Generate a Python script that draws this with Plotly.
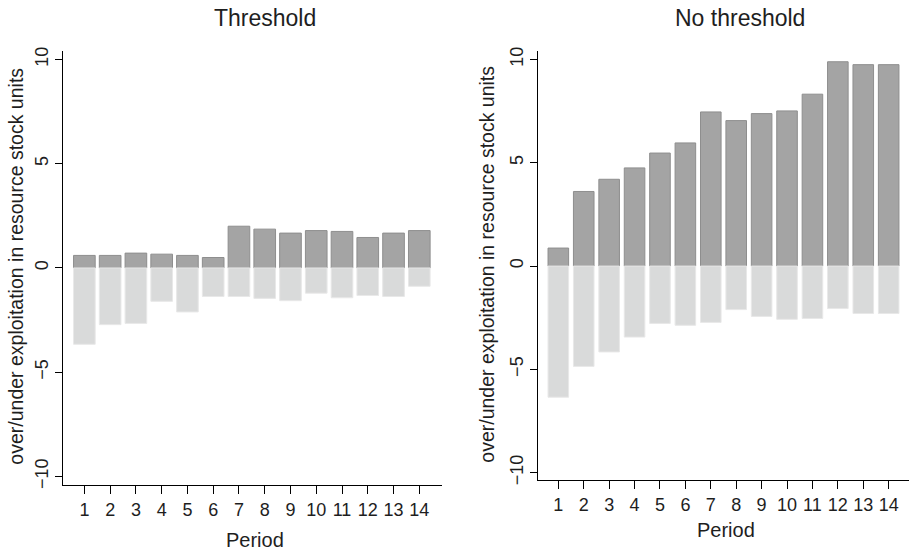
import plotly.graph_objects as go

periods = list(range(1, 15))
period_labels = [str(p) for p in periods]

threshold_over = [0.60, 0.60, 0.71, 0.66, 0.60, 0.50, 2.00, 1.86, 1.67, 1.79, 1.75, 1.46, 1.67, 1.79]
threshold_under = [-3.66, -2.72, -2.66, -1.60, -2.11, -1.37, -1.37, -1.46, -1.57, -1.21, -1.43, -1.32, -1.37, -0.88]
nothreshold_over = [0.87, 3.61, 4.20, 4.75, 5.47, 5.96, 7.46, 7.04, 7.38, 7.51, 8.32, 9.89, 9.75, 9.75]
nothreshold_under = [-6.35, -4.86, -4.16, -3.44, -2.78, -2.87, -2.73, -2.11, -2.44, -2.58, -2.54, -2.06, -2.30, -2.30]

y_ticks = [-10, -5, 0, 5, 10]
y_ticktext = ["\u221210", "\u22125", "0", "5", "10"]

panel_titles = ["Threshold", "No threshold"]
y_title = "over/under exploitation in resource stock units"
x_title = "Period"

DARK = "#a4a4a4"
DARK_LINE = "#8e8e8e"
LIGHT = "#d9dada"
LIGHT_LINE = "#e8e8e8"
FONT = "Liberation Sans, Arial, sans-serif"
TXT = "#1e1e1e"

fig = go.Figure()


def add_panel(over, under, xa, ya, width):
    fig.add_trace(go.Bar(x=periods, y=over, xaxis=xa, yaxis=ya, width=width,
                         marker=dict(color=DARK, line=dict(color=DARK_LINE, width=1)),
                         showlegend=False, hoverinfo="x+y"))
    fig.add_trace(go.Bar(x=periods, y=under, xaxis=xa, yaxis=ya, width=width,
                         marker=dict(color=LIGHT, line=dict(color=LIGHT_LINE, width=1)),
                         showlegend=False, hoverinfo="x+y"))


add_panel(threshold_over, threshold_under, "x", "y", 0.84)
add_panel(nothreshold_over, nothreshold_under, "x2", "y2", 0.81)

W, H = 909, 554


def px_x(p):
    return p / W


def px_y(p):
    return (H - p) / H


xcommon = dict(showline=True, linecolor="black", linewidth=1, ticks="outside", ticklen=8,
               tickcolor="black", tickwidth=1, showgrid=False, zeroline=False,
               tickmode="array", tickvals=periods, ticktext=period_labels,
               tickfont=dict(family=FONT, size=18, color=TXT))
ycommon = dict(showline=True, linecolor="black", linewidth=1, ticks="outside", ticklen=7,
               tickcolor="black", tickwidth=1, showgrid=False, zeroline=False,
               tickmode="array", tickvals=y_ticks, ticktext=y_ticktext, tickangle=-90,
               tickfont=dict(family=FONT, size=18, color=TXT))

fig.update_layout(
    width=W, height=H,
    margin=dict(l=0, r=0, t=0, b=0),
    paper_bgcolor="white", plot_bgcolor="white",
    barmode="relative",
    xaxis=dict(xcommon, domain=[px_x(63), px_x(441.7)], range=[0.17, 14.87], anchor="y"),
    yaxis=dict(ycommon, domain=[px_y(489), px_y(48)], range=[-10.41, 10.39], anchor="x"),
    xaxis2=dict(xcommon, domain=[px_x(538), 1.0], range=[0.2, 14.8], anchor="y2"),
    yaxis2=dict(ycommon, domain=[px_y(484.3), px_y(48)], range=[-10.38, 10.4], anchor="x2"),
)

ann = []
# panel titles
ann.append(dict(text=panel_titles[0], x=px_x(264.5), y=px_y(14), xref="paper", yref="paper",
                xanchor="center", yanchor="middle", showarrow=False,
                font=dict(family=FONT, size=23, color=TXT)))
ann.append(dict(text=panel_titles[1], x=px_x(740), y=px_y(14), xref="paper", yref="paper",
                xanchor="center", yanchor="middle", showarrow=False,
                font=dict(family=FONT, size=23, color=TXT)))
# y titles
ann.append(dict(text=y_title, x=px_x(16), y=px_y(267), xref="paper", yref="paper",
                xanchor="center", yanchor="middle", textangle=-90, showarrow=False,
                font=dict(family=FONT, size=19.5, color=TXT)))
ann.append(dict(text=y_title, x=px_x(487), y=px_y(265), xref="paper", yref="paper",
                xanchor="center", yanchor="middle", textangle=-90, showarrow=False,
                font=dict(family=FONT, size=19.5, color=TXT)))
# x titles
ann.append(dict(text=x_title, x=px_x(254.5), y=px_y(545), xref="paper", yref="paper",
                xanchor="center", yanchor="middle", showarrow=False,
                font=dict(family=FONT, size=20, color=TXT)))
ann.append(dict(text=x_title, x=px_x(726), y=px_y(535), xref="paper", yref="paper",
                xanchor="center", yanchor="middle", showarrow=False,
                font=dict(family=FONT, size=20, color=TXT)))
fig.update_layout(annotations=ann)

fig.write_html("out.html", config={"displayModeBar": False},
               post_script="document.body.style.margin='0';")
